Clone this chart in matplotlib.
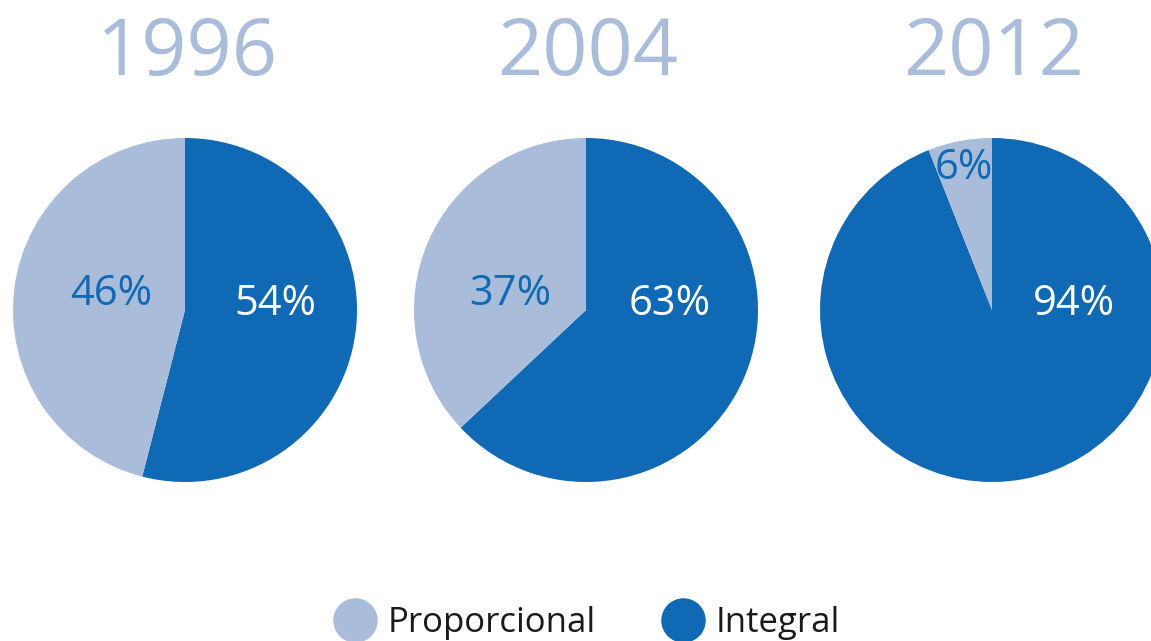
import matplotlib.pyplot as plt
from matplotlib.lines import Line2D

# Datos
years = ['1996', '2004', '2012']
integral = [54, 63, 94]
proporcional = [46, 37, 6]
series_names = ['Proporcional', 'Integral']

# Estilo
color_light = '#A9BCDA'
color_dark = '#0F69B4'
color_text = '#1A1A1A'
plt.rcParams['font.family'] = ['Open Sans', 'DejaVu Sans']

W, H = 1151, 641
centers_x = [185, 586, 992]
center_y = H - 310
radius = 172
# desplazamientos de las etiquetas respecto al centro (px)
lab_light = [(-74, 16), (-76, 16), (-28, 142)]
lab_dark = [(90, 6), (84, 6), (82, 6)]

fig = plt.figure(figsize=(W / 100, H / 100), dpi=100)
ax = fig.add_axes([0, 0, 1, 1])

for i, year in enumerate(years):
    cx = centers_x[i]
    ax.pie([integral[i], proporcional[i]], colors=[color_dark, color_light],
           startangle=90, counterclock=False, center=(cx, center_y), radius=radius,
           wedgeprops=dict(linewidth=0))
    ax.text(cx + 2, H - 54, year, ha='center', va='center', fontsize=57, color=color_light)
    ax.text(cx + lab_dark[i][0], center_y + lab_dark[i][1], f'{integral[i]}%',
            ha='center', va='center', fontsize=30, color='white')
    ax.text(cx + lab_light[i][0], center_y + lab_light[i][1], f'{proporcional[i]}%',
            ha='center', va='center', fontsize=30, color=color_dark)

ax.set_xlim(0, W)
ax.set_ylim(0, H)
ax.set_aspect('auto')
ax.axis('off')

handles = [Line2D([], [], marker='o', linestyle='none', markersize=32,
                  markerfacecolor=c, markeredgewidth=0) for c in (color_light, color_dark)]
fig.legend(handles, series_names, loc='center', bbox_to_anchor=(587 / W, 1 - 623 / H),
           ncol=2, frameon=False, fontsize=25, labelcolor=color_text,
           handletextpad=0.35, columnspacing=1.9, borderpad=0, handlelength=1.2)

fig.savefig('out.png', dpi=100)
